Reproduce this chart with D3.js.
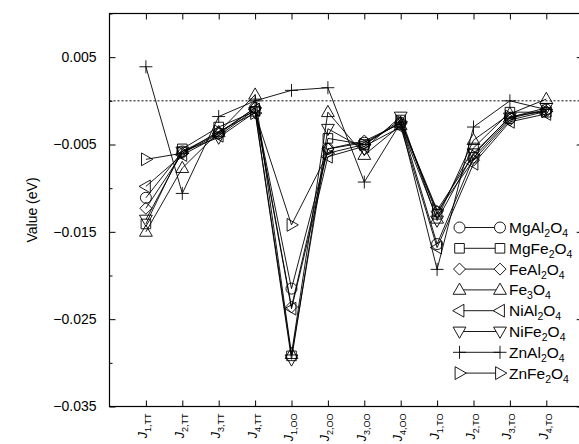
<!DOCTYPE html>
<html>
<head>
<meta charset="utf-8">
<script src="https://cdn.jsdelivr.net/npm/d3@7"></script>
<style>
  html, body { margin: 0; padding: 0; background: #fff; }
  svg { display: block; }
  text { font-family: "Liberation Sans", Arial, Helvetica, sans-serif; fill: #000; }
</style>
</head>
<body>
<svg id="chart" width="579" height="444"></svg>
<script>
// ---- data ----
const categories = [
  {main: "J", sub: "1,TT"}, {main: "J", sub: "2,TT"}, {main: "J", sub: "3,TT"}, {main: "J", sub: "4,TT"},
  {main: "J", sub: "1,OO"}, {main: "J", sub: "2,OO"}, {main: "J", sub: "3,OO"}, {main: "J", sub: "4,OO"},
  {main: "J", sub: "1,TO"}, {main: "J", sub: "2,TO"}, {main: "J", sub: "3,TO"}, {main: "J", sub: "4,TO"}
];
const seriesNames = [
  [["MgAl", ""], ["2", "sub"], ["O", ""], ["4", "sub"]],
  [["MgFe", ""], ["2", "sub"], ["O", ""], ["4", "sub"]],
  [["FeAl", ""], ["2", "sub"], ["O", ""], ["4", "sub"]],
  [["Fe", ""], ["3", "sub"], ["O", ""], ["4", "sub"]],
  [["NiAl", ""], ["2", "sub"], ["O", ""], ["4", "sub"]],
  [["NiFe", ""], ["2", "sub"], ["O", ""], ["4", "sub"]],
  [["ZnAl", ""], ["2", "sub"], ["O", ""], ["4", "sub"]],
  [["ZnFe", ""], ["2", "sub"], ["O", ""], ["4", "sub"]]
];
const seriesMarkers = ["circle", "square", "diamond", "triangleUp", "triangleLeft", "triangleDown", "plus", "triangleRight"];

const MgAl2O4 = [-0.0111, -0.0058, -0.0037, -0.0008, -0.0215, -0.0055, -0.0048, -0.0025, -0.0164, -0.0065, -0.0020, -0.0010];
const MgFe2O4 = [-0.0141, -0.0055, -0.0030, -0.0012, -0.0292, -0.0043, -0.0050, -0.0022, -0.0130, -0.0054, -0.0013, -0.0013];
const FeAl2O4 = [-0.0123, -0.0060, -0.0038, -0.0008, -0.0236, -0.0055, -0.0046, -0.0026, -0.0127, -0.0068, -0.0022, -0.0012];
const Fe3O4   = [-0.0150, -0.0077, -0.0036,  0.0007, -0.0290, -0.0013, -0.0062, -0.0028, -0.0135, -0.0045, -0.0015,  0.0002];
const NiAl2O4 = [-0.0098, -0.0062, -0.0040, -0.0010, -0.0238, -0.0064, -0.0052, -0.0030, -0.0168, -0.0072, -0.0024, -0.0015];
const NiFe2O4 = [-0.0136, -0.0058, -0.0042, -0.0013, -0.0296, -0.0032, -0.0055, -0.0018, -0.0137, -0.0060, -0.0019, -0.0008];
const ZnAl2O4 = [ 0.0039, -0.0106, -0.0018,  0.0000,  0.0012,  0.0015, -0.0093, -0.0025, -0.0193, -0.0030,  0.0000, -0.0010];
const ZnFe2O4 = [-0.0067, -0.0060, -0.0035, -0.0014, -0.0142, -0.0060, -0.0050, -0.0024, -0.0125, -0.0062, -0.0018, -0.0012];
const seriesValues = [MgAl2O4, MgFe2O4, FeAl2O4, Fe3O4, NiAl2O4, NiFe2O4, ZnAl2O4, ZnFe2O4];

const yMajorTicks = [0.005, -0.005, -0.015, -0.025, -0.035];
const yMinorTicks = [0.01, 0.0, -0.01, -0.02, -0.03];
const yTickLabels = ["0.005", "\u22120.005", "\u22120.015", "\u22120.025", "\u22120.035"];
const yTitle = "Value (eV)";

// ---- layout ----
const svg = d3.select("#chart");
const L = 109.5, R = 582.7, T = 13.5, B = 406.5;
const x = d3.scaleLinear().domain([0, 13]).range([L, R]);
const y = d3.scaleLinear().domain([-0.035, 0.01]).range([B, T]);
const idx = d3.range(1, categories.length + 1);

// zero reference line (dotted)
svg.append("line")
  .attr("x1", L).attr("x2", R).attr("y1", y(0)).attr("y2", y(0))
  .attr("stroke", "#000").attr("stroke-width", 1).attr("stroke-dasharray", "2,2");

// frame
svg.append("rect").attr("x", L).attr("y", T).attr("width", R - L).attr("height", B - T)
  .attr("fill", "none").attr("stroke", "#000").attr("stroke-width", 1.2);

function styleAxis(g) {
  g.select(".domain").remove();
  g.selectAll(".tick line").attr("stroke", "#000").attr("stroke-width", 1);
}
// left axis
svg.append("g").attr("transform", `translate(${L},0)`)
  .call(d3.axisLeft(y).tickValues(yMajorTicks).tickSizeInner(-6).tickSizeOuter(0).tickPadding(13)
    .tickFormat((d, i) => yTickLabels[i]))
  .call(styleAxis)
  .call(g => g.selectAll("text").attr("font-size", 14).attr("font-family", "Liberation Sans, Arial, sans-serif"));
svg.append("g").attr("transform", `translate(${L},0)`)
  .call(d3.axisLeft(y).tickValues(yMinorTicks).tickSizeInner(-3).tickSizeOuter(0).tickFormat(""))
  .call(styleAxis);
// right axis
svg.append("g").attr("transform", `translate(${R},0)`)
  .call(d3.axisRight(y).tickValues(yMajorTicks).tickSizeInner(-6).tickSizeOuter(0).tickFormat(""))
  .call(styleAxis);
svg.append("g").attr("transform", `translate(${R},0)`)
  .call(d3.axisRight(y).tickValues(yMinorTicks).tickSizeInner(-3).tickSizeOuter(0).tickFormat(""))
  .call(styleAxis);
// bottom & top axes
svg.append("g").attr("transform", `translate(0,${B})`)
  .call(d3.axisBottom(x).tickValues(idx).tickSizeInner(-6).tickSizeOuter(0).tickFormat(""))
  .call(styleAxis);
svg.append("g").attr("transform", `translate(0,${T})`)
  .call(d3.axisTop(x).tickValues(idx).tickSizeInner(-6).tickSizeOuter(0).tickFormat(""))
  .call(styleAxis);

// x category labels (rotated)
const xl = svg.append("g");
categories.forEach((c, i) => {
  const t = xl.append("text")
    .attr("transform", `translate(${x(i + 1) + 1.5},${B + 7}) rotate(-90)`)
    .attr("text-anchor", "end");
  t.append("tspan").attr("font-size", 12.5).attr("font-style", "italic").text(c.main);
  t.append("tspan").attr("font-size", 9).attr("dy", 4).text(c.sub);
});

// y title
svg.append("text")
  .attr("transform", `translate(37,${(T + B) / 2}) rotate(-90)`)
  .attr("text-anchor", "middle").attr("font-size", 14).text(yTitle);

// marker shapes
function markerPath(type) {
  switch (type) {
    case "circle": return "M5.5,0A5.5,5.5 0 1,1 -5.5,0A5.5,5.5 0 1,1 5.5,0Z";
    case "square": return "M-4.8,-4.8H4.8V4.8H-4.8Z";
    case "diamond": return "M0,-6L6,0L0,6L-6,0Z";
    case "triangleUp": return "M0,-6.8L6.4,4.4L-6.4,4.4Z";
    case "triangleDown": return "M0,6.8L6.4,-4.4L-6.4,-4.4Z";
    case "triangleLeft": return "M-6.8,0L4.4,-6.4L4.4,6.4Z";
    case "triangleRight": return "M6.8,0L-4.4,-6.4L-4.4,6.4Z";
    case "plus": return "M-6.5,0H6.5M0,-6.5V6.5";
  }
}

const line = d3.line().x((d, i) => x(i + 1)).y(d => y(d));
const plot = svg.append("g");
seriesValues.forEach((vals, s) => {
  plot.append("path").datum(vals).attr("d", line)
    .attr("fill", "none").attr("stroke", "#000").attr("stroke-width", 0.9);
});
seriesValues.forEach((vals, s) => {
  plot.selectAll(null).data(vals).enter().append("path")
    .attr("transform", (d, i) => `translate(${x(i + 1)},${y(d)})`)
    .attr("d", markerPath(seriesMarkers[s]))
    .attr("fill", "none").attr("stroke", "#000").attr("stroke-width", 0.9);
});

// legend
const lg = svg.append("g");
const lgY0 = 227.5, lgDY = 20.8, lgX1 = 459.5, lgX2 = 500, lgTX = 509;
seriesNames.forEach((parts, s) => {
  const yy = lgY0 + s * lgDY;
  lg.append("line").attr("x1", lgX1).attr("x2", lgX2).attr("y1", yy).attr("y2", yy)
    .attr("stroke", "#000").attr("stroke-width", 0.9);
  [lgX1, lgX2].forEach(xx => lg.append("path").attr("transform", `translate(${xx},${yy})`)
    .attr("d", markerPath(seriesMarkers[s])).attr("fill", "#fff").attr("stroke", "#000").attr("stroke-width", 0.9));
  const t = lg.append("text").attr("x", lgTX).attr("y", yy + 5.5).attr("font-size", 15.5);
  let shifted = false;
  parts.forEach(([txt, kind]) => {
    const ts = t.append("tspan").text(txt);
    if (kind === "sub") {
      ts.attr("font-size", 10.5).attr("dy", shifted ? 0 : 4);
      shifted = true;
    } else {
      ts.attr("dy", shifted ? -4 : 0);
      shifted = false;
    }
  });
});
</script>
</body>
</html>
